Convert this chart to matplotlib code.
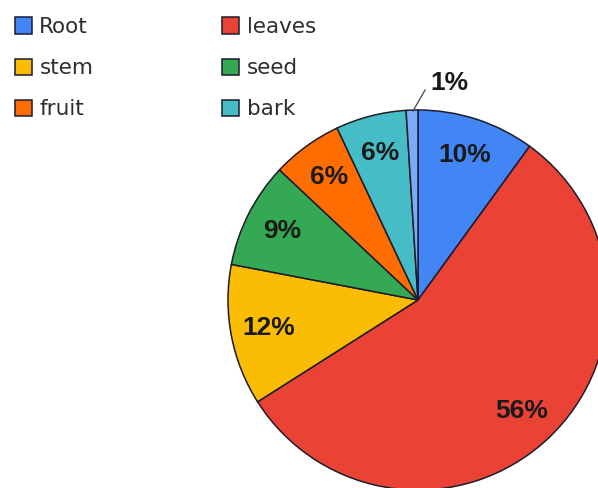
import matplotlib
matplotlib.use("Agg")
import matplotlib.pyplot as plt

# data (clockwise from 12 o'clock)
parts = ["Root", "leaves", "stem", "seed", "fruit", "bark", "other"]
shares = [10, 56, 12, 9, 6, 6, 1]
colors = ["#4285F4", "#EA4335", "#FBBC04", "#34A853", "#FF6D01", "#46BDC6", "#7BAAF7"]
legend_parts = ["Root", "stem", "fruit", "leaves", "seed", "bark"]  # column-wise order

fig = plt.figure(figsize=(5.98, 4.88), dpi=100)
fig.patch.set_facecolor("white")

# pie placed so its centre is at ~(418, 300) px with radius ~190 px
W, H = 598, 488
cx, cy, r = 418, 300, 190
ax = fig.add_axes([(cx - r) / W, (H - cy - r) / H, 2 * r / W, 2 * r / H])

label_font = dict(fontsize=19, fontweight="bold", color="#1a1a1a", family="Liberation Sans")

wedges, texts, autotexts = ax.pie(
    shares, colors=colors, startangle=90, counterclock=False,
    autopct=lambda p: f"{p:.0f}%", pctdistance=0.8,
    wedgeprops=dict(edgecolor="#1c1c2c", linewidth=1.1),
    textprops=label_font,
)
ax.set_xlim(-1, 1)
ax.set_ylim(-1, 1)
ax.set_aspect("equal")
for w in wedges:
    w.set_clip_on(False)

# the tiny slice gets its label outside with a leader line
autotexts[-1].set_visible(False)
ax.plot([-0.026, 0.037], [0.995, 1.105], color="#444444", lw=0.9, clip_on=False)
ax.text(0.063, 1.142, "1%", ha="left", va="center", clip_on=False, **label_font)

lookup = dict(zip(parts, wedges))
leg = fig.legend([lookup[p] for p in legend_parts], legend_parts,
                 loc="upper left", bbox_to_anchor=(15 / W, 1 - 17 / H), ncol=2,
                 frameon=False, handlelength=0.78, handleheight=0.78,
                 handletextpad=0.35, labelspacing=0.98, columnspacing=6.0,
                 borderaxespad=0, borderpad=0,
                 prop=dict(family="DejaVu Sans", size=15.5))
for t in leg.get_texts():
    t.set_color("#2e2e2e")

fig.savefig("out.png", dpi=100, facecolor="white")
